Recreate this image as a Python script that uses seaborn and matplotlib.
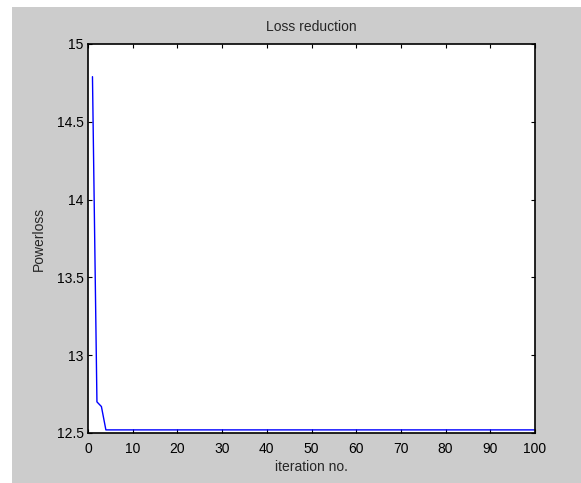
import matplotlib
matplotlib.use("Agg")
import matplotlib.pyplot as plt
from matplotlib.patches import Rectangle
import seaborn as sns

# Data
iterations = list(range(1, 101))
powerloss = [14.79, 12.70, 12.67] + [12.52] * 97
xticks = [0, 10, 20, 30, 40, 50, 60, 70, 80, 90, 100]
yticks = [12.5, 13, 13.5, 14, 14.5, 15]
ytick_labels = ["12.5", "13", "13.5", "14", "14.5", "15"]

sns.set_style("ticks")
plt.rcParams['font.family'] = ['Liberation Sans', 'DejaVu Sans']

fig = plt.figure(figsize=(5.81, 4.83), dpi=100, facecolor="#cccccc")
# white margin strips along the top and left of the grey MATLAB panel
fig.add_artist(Rectangle((0, 1 - 7 / 483), 1, 7 / 483, transform=fig.transFigure,
                         facecolor="white", edgecolor="none", zorder=-10))
fig.add_artist(Rectangle((0, 0), 12 / 581, 1, transform=fig.transFigure,
                         facecolor="white", edgecolor="none", zorder=-10))

ax = fig.add_axes([88 / 581, 1 - 433 / 483, (535 - 88) / 581, (433 - 44) / 483])
ax.set_zorder(1)
ax.set_facecolor("white")

sns.lineplot(x=iterations, y=powerloss, color="#0000ff", linewidth=1, ax=ax)

ax.set_xlim(0, 100)
ax.set_ylim(12.5, 15)
ax.set_xticks(xticks)
ax.set_yticks(yticks)
ax.set_yticklabels(ytick_labels)
ax.tick_params(direction="in", top=True, right=True, length=3, width=0.8,
               labelsize=10, colors="black", pad=3)
ax.tick_params(axis="x", pad=6.5)
for s in ax.spines.values():
    s.set_visible(True)
    s.set_linewidth(1.2)
    s.set_color("black")

ax.set_title("Loss reduction", fontsize=10, pad=9)
ax.set_xlabel("iteration no.", fontsize=10, labelpad=3)
ax.set_ylabel("Powerloss", fontsize=10, labelpad=8)

plt.savefig("out.png", dpi=100, facecolor=fig.get_facecolor())
